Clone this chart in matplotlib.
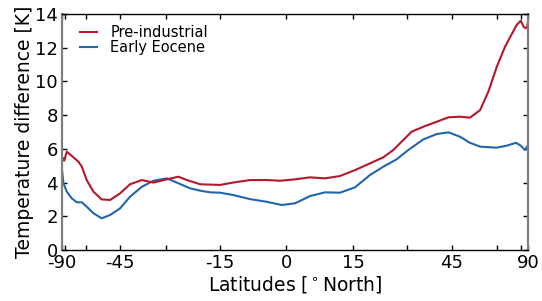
import matplotlib
matplotlib.use('Agg')
import matplotlib.pyplot as plt

# x positions are in sine-of-latitude units (area-weighted latitude axis)
pi_x = [-0.926, -0.921, -0.917, -0.906, -0.858, -0.844, -0.824, -0.796, -0.762,
        -0.727, -0.686, -0.645, -0.596, -0.548, -0.493, -0.445, -0.410, -0.355,
        -0.273, -0.219, -0.149, -0.080, -0.025, 0.037, 0.099, 0.161, 0.223,
        0.285, 0.347, 0.402, 0.443, 0.519, 0.574, 0.623, 0.671, 0.719, 0.760,
        0.802, 0.836, 0.871, 0.905, 0.953, 0.970, 0.983, 0.995, 1.0]
pi_dt = [5.25, 5.45, 5.3, 5.83, 5.24, 4.94, 4.15, 3.46, 3.0,
         2.97, 3.36, 3.9, 4.15, 4.0, 4.19, 4.35, 4.15, 3.9,
         3.86, 4.0, 4.15, 4.15, 4.11, 4.19, 4.31, 4.25, 4.39,
         4.74, 5.14, 5.5, 5.93, 7.02, 7.35, 7.61, 7.87, 7.91, 7.85,
         8.3, 9.39, 10.87, 12.06, 13.35, 13.6, 13.21, 13.15, 13.54]

ee_x = [-0.926, -0.920, -0.906, -0.886, -0.865, -0.844, -0.824, -0.796, -0.762,
        -0.727, -0.686, -0.645, -0.596, -0.548, -0.493, -0.445, -0.397, -0.355,
        -0.314, -0.273, -0.218, -0.149, -0.080, -0.018, 0.037, 0.099, 0.161,
        0.223, 0.285, 0.347, 0.402, 0.457, 0.505, 0.567, 0.623, 0.671, 0.719,
        0.760, 0.802, 0.871, 0.912, 0.950, 0.970, 0.988, 1.0]
ee_dt = [4.74, 3.96, 3.46, 3.07, 2.83, 2.83, 2.57, 2.18, 1.88,
         2.08, 2.47, 3.16, 3.75, 4.11, 4.25, 3.96, 3.66, 3.52,
         3.42, 3.40, 3.26, 3.02, 2.86, 2.67, 2.77, 3.2, 3.42,
         3.4, 3.72, 4.45, 4.94, 5.38, 5.93, 6.56, 6.88, 6.98, 6.72,
         6.36, 6.13, 6.07, 6.19, 6.36, 6.19, 5.93, 6.23]

xtick_pos = [-0.926, -0.913, -0.826, -0.686, -0.496, -0.273, 0.0,
             0.277, 0.5, 0.686, 0.872, 0.971, 1.0]
xtick_lab = ['-90', '', '', '-45', '', '-15', '0',
             '15', '', '45', '', '', '90']
yticks = [0, 2, 4, 6, 8, 10, 12, 14]

red = '#b2182b'
blue = '#2166ac'

fig = plt.figure(figsize=(5.42, 3.01), dpi=100)
ax = fig.add_axes([0.1144, 0.1694, 0.8598, 0.7841])

ax.plot(ee_x, ee_dt, color=blue, linewidth=1.5, label='Early Eocene')
ax.plot(pi_x, pi_dt, color=red, linewidth=1.5, label='Pre-industrial')

ax.set_xlim(-0.926, 1.0)
ax.set_ylim(0, 14)
ax.set_xticks(xtick_pos)
ax.set_xticklabels(xtick_lab)
ax.set_yticks(yticks)
ax.tick_params(direction='in', length=3.5, width=1, labelsize=13,
               top=True, right=True, pad=3)

for side in ['left', 'right']:
    ax.spines[side].set_color('#808080')
    ax.spines[side].set_linewidth(1.6)
for side in ['top', 'bottom']:
    ax.spines[side].set_color('black')
    ax.spines[side].set_linewidth(1.0)

ax.set_xlabel(r'Latitudes [$^\circ$North]', fontsize=13.5, labelpad=1)
ax.set_ylabel('Temperature difference [K]', fontsize=13.5, labelpad=1)

h, l = ax.get_legend_handles_labels()
ax.legend(h[::-1], l[::-1], loc='upper left', frameon=False, fontsize=10.5,
          handlelength=1.2, handletextpad=0.9, labelspacing=0.0,
          bbox_to_anchor=(0.01, 1.01))

fig.savefig('out.png', dpi=100)
